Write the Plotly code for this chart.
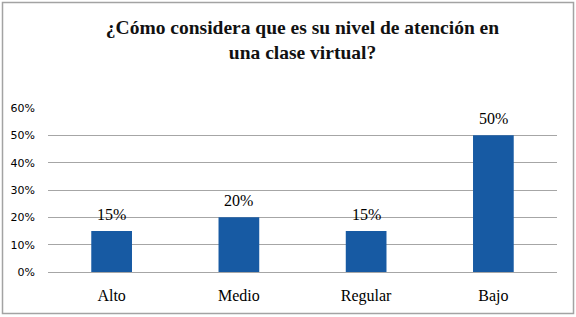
import plotly.graph_objects as go

categories = ["Alto", "Medio", "Regular", "Bajo"]
values = [0.15, 0.20, 0.15, 0.50]
labels = ["15%", "20%", "15%", "50%"]
tick_vals = [0, 0.1, 0.2, 0.3, 0.4, 0.5, 0.6]
tick_text = ["0%", "10%", "20%", "30%", "40%", "50%", "60%"]
title = "<b>¿Cómo considera que es su nivel de atención en<br>una clase virtual?</b>"

SERIF = "Liberation Serif, Times New Roman, serif"

W, H = 576, 317
L, R, T, B = 48, 19, 108, 45
pw = W - L - R
ph = H - T - B

def px_to_paper_x(px):
    return (px - L) / pw

def px_to_paper_y(py):
    return (H - B - py) / ph

fig = go.Figure()
fig.add_trace(go.Bar(
    x=categories, y=values,
    marker=dict(color="#175AA3", line=dict(width=0)),
    width=0.32,
    hoverinfo="x+y",
))

for c, v, t in zip(categories, values, labels):
    fig.add_annotation(x=c, y=v, text=t, showarrow=False,
                       yanchor="bottom", yshift=6,
                       font=dict(family=SERIF, size=16, color="#000000"))

fig.update_layout(
    width=W, height=H,
    margin=dict(l=L, r=R, t=T, b=B),
    paper_bgcolor="white", plot_bgcolor="white",
    showlegend=False,
    title=dict(text=title, x=0.5, xref="paper", xanchor="center",
               y=1 - 33.5 / H, yanchor="middle",
               font=dict(family=SERIF, size=19.5, color="#111111")),
    xaxis=dict(showgrid=False, showline=False, ticks="", ticklabelstandoff=12,
               tickfont=dict(family=SERIF, size=16, color="#000000")),
    yaxis=dict(range=[0, 0.6], tickvals=tick_vals, ticktext=tick_text,
               showgrid=True, gridcolor="#a6a6a6", gridwidth=1,
               zeroline=True, zerolinecolor="#a6a6a6", zerolinewidth=1,
               showline=False, ticks="", ticklabelstandoff=12,
               tickfont=dict(family="DejaVu Sans", size=11, color="#000000")),
    bargap=0.68,
    shapes=[dict(type="rect", xref="paper", yref="paper",
                 x0=px_to_paper_x(2.5), x1=px_to_paper_x(573.5),
                 y0=px_to_paper_y(313.5), y1=px_to_paper_y(2.5),
                 line=dict(color="#a3a3a3", width=1.5), fillcolor="rgba(0,0,0,0)",
                 layer="below")],
)

fig.write_html("out.html", config={"displayModeBar": False},
               post_script="document.body.style.margin='0';")
